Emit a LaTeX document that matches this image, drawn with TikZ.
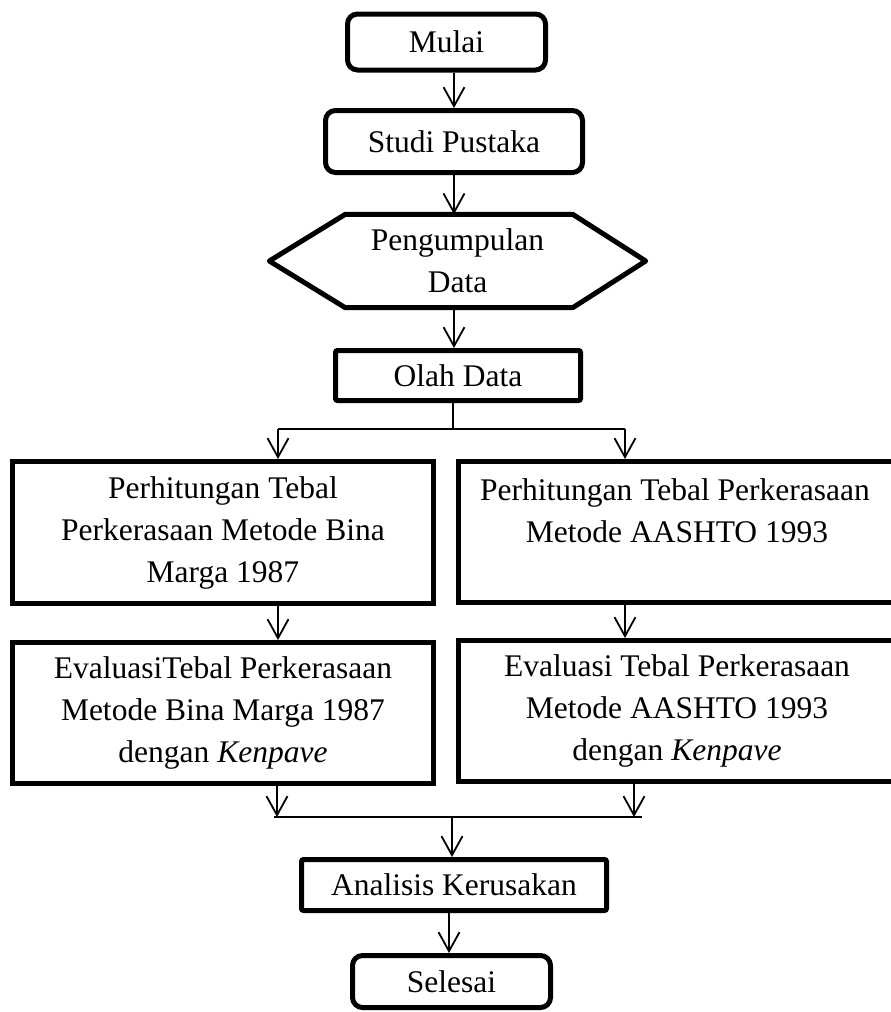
\documentclass[tikz,border=0pt]{standalone}
\usepackage{fontspec}
\setmainfont{Liberation Serif}
\usepackage{tikz}
\usetikzlibrary{arrows.meta}
\tikzstyle{terminal} = [rectangle, draw, line width=5pt, rounded corners=10pt,
    inner sep=0pt, text centered]
\tikzstyle{block} = [rectangle, draw, line width=5pt, inner sep=0pt, align=center]
\tikzstyle{io} = [inner sep=0pt, align=center, minimum width=376pt, minimum height=93pt]
\tikzstyle{line} = [draw, line width=1.8pt, -{Straight Barb[length=19pt,width=21pt]}]
\tikzstyle{bus} = [draw, line width=1.8pt]

\begin{document}
\begin{tikzpicture}[x=1pt, y=-1pt,
    every node/.style={font=\fontsize{31.5pt}{42pt}\selectfont}]
   \useasboundingbox (0,0) rectangle (891,1012);
   % Place nodes
    \node [terminal, minimum width=198pt, minimum height=56pt] (mulai) at (446.5,42) {Mulai};
    \node [terminal, minimum width=257pt, minimum height=62pt] (studi) at (454,141.5) {Studi Pustaka};
    \node [io] (data) at (457.5,261) {Pengumpulan\\Data};
    \node [block, rounded corners=2pt, minimum width=245pt, minimum height=50pt] (olah) at (458,375.5) {Olah Data};
    \node [block, minimum width=421pt, minimum height=142pt] (bml) at (223,532.5)
        {Perhitungan Tebal\\Perkerasaan Metode Bina\\Marga 1987};
    \node [block, minimum width=438pt, minimum height=141pt] (aasr) at (677,532)
        {\hspace*{-4pt}Perhitungan Tebal Perkerasaan\\Metode AASHTO 1993\\~};
    \node [block, minimum width=421pt, minimum height=141pt] (evl) at (223,713)
        {EvaluasiTebal Perkerasaan\\Metode Bina Marga 1987\\dengan \textit{Kenpave}};
    \node [block, minimum width=438pt, minimum height=141pt] (evr) at (677,711)
        {Evaluasi Tebal Perkerasaan\\Metode AASHTO 1993\\dengan \textit{Kenpave}};
    \node [block, rounded corners=2pt, minimum width=305pt, minimum height=51pt] (analisis) at (454,885) {Analisis Kerusakan};
    \node [terminal, minimum width=198pt, minimum height=52pt] (selesai) at (451.5,981.5) {Selesai};
    % hexagon round the data node
    \draw [line width=5pt, line join=round] (data.west) -- ([xshift=76pt]data.north west)
        -- ([xshift=-73pt]data.north east) -- (data.east)
        -- ([xshift=-73pt]data.south east) -- ([xshift=76pt]data.south west) -- cycle;
    \coordinate (split) at (453,429);
    \coordinate (sl) at (278,429);
    \coordinate (sr) at (625,429);
    \coordinate (ml) at (274,817);
    \coordinate (mr) at (642,817);
    \coordinate (merge) at (452,817);
   % Draw edges
    \path [line] (studi.north |- mulai.south) -- (studi.north);
    \path [line] (studi.south) -- (studi.south |- data.north);
    \path [line] (studi.south |- data.south) -- (studi.south |- olah.north);
    \path [bus] (split |- olah.south) -- (split);
    \path [bus] (sl) -- (sr);
    \path [line] (sl) -- (sl |- bml.north);
    \path [line] (sr) -- (sr |- aasr.north);
    \path [line] (sl |- bml.south) -- (sl |- evl.north);
    \path [line] (sr |- aasr.south) -- (sr |- evr.north);
    \path [line] (277,0 |- evl.south) -- (277,817);
    \path [line] (634,0 |- evr.south) -- (634,817);
    \path [bus] (ml) -- (mr);
    \path [line] (merge) -- (merge |- analisis.north);
    \path [line] (449,0 |- analisis.south) -- (449,0 |- selesai.north);
\end{tikzpicture}
\end{document}
